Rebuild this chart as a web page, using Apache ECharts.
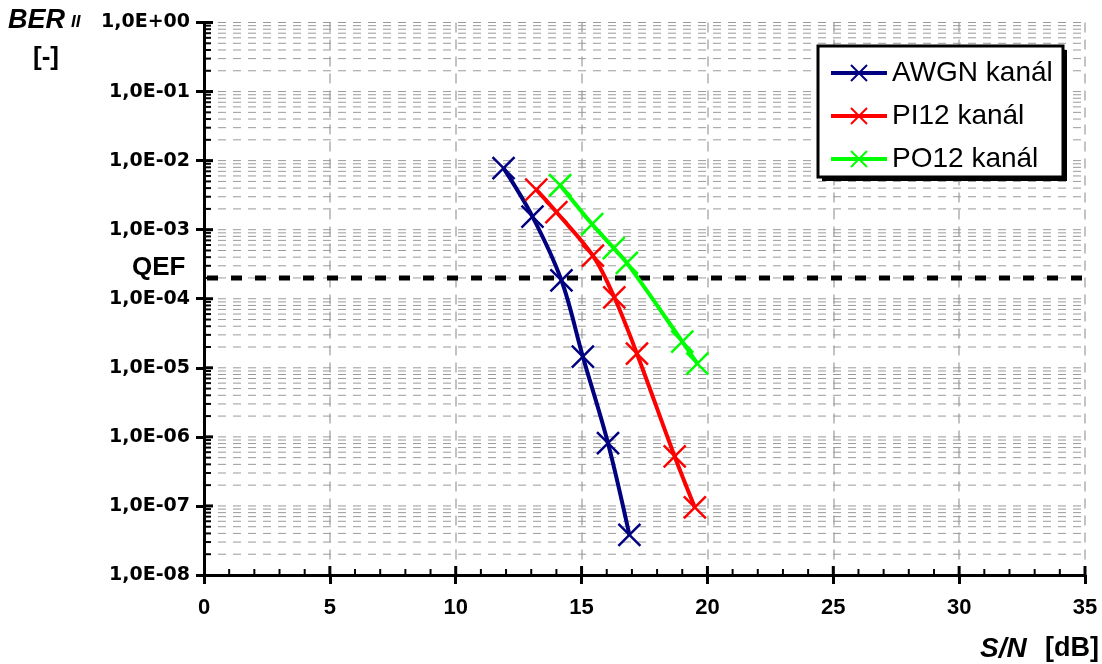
<!DOCTYPE html>
<html>
<head>
<meta charset="utf-8">
<script src="https://cdn.jsdelivr.net/npm/echarts@6/dist/echarts.min.js"></script>
<style>
html,body{margin:0;padding:0;background:#fff;}
#c{width:1102px;height:664px;}
</style>
</head>
<body>
<div id="c"></div>
<script>
// ---- data ----
const seriesNames = ['AWGN kanál', 'PI12 kanál', 'PO12 kanál'];
const snrAWGN = [11.9, 13.05, 14.2, 15.05, 16.05, 16.9];
const berAWGN = [7.8e-3, 1.55e-3, 1.85e-4, 1.45e-5, 8.1e-7, 3.8e-8];
const snrPI12 = [13.2, 14.0, 15.45, 16.3, 17.2, 18.7, 19.5];
const berPI12 = [3.8e-3, 1.8e-3, 4.2e-4, 1.05e-4, 1.6e-5, 5.2e-7, 9.5e-8];
const snrPO12 = [14.15, 15.42, 16.28, 16.8, 19.0, 19.6];
const berPO12 = [4.4e-3, 1.2e-3, 5.4e-4, 3.3e-4, 2.4e-5, 1.15e-5];
const qefLevel = 2e-4;
const xTicks = [0, 5, 10, 15, 20, 25, 30, 35];
const yMin = 1e-8, yMax = 1;

// ---- helpers ----
const colors = ['#000080', '#ff0000', '#00ff00'];
const FONT = '"Liberation Sans", Arial, sans-serif';
const WIDEFONT = '"DejaVu Sans", sans-serif';
const crossSymbol = 'path://M0,0L10,10M10,0L0,10';

// horizontal grid values (every k*10^n) — axis structure
const hGrid = [];
for (let n = -8; n <= 0; n++) {
  for (let k = 1; k <= 9; k++) {
    const v = k * Math.pow(10, n);
    if (v > yMax * 1.0001) break;
    if (n === -8 && k === 1) continue;
    hGrid.push([0, v, k === 1 ? 1 : 0]);
  }
}
// minor x ticks (integers)
const xMinor = [];
for (let i = 1; i <= 35; i++) xMinor.push([i, yMin, i % 5 === 0 ? 1 : 0]);

function fmtY(v) {
  const e = Math.round(Math.log10(v));
  const a = Math.abs(e);
  return '1,0E' + (e < 0 ? '-' : '+') + (a < 10 ? '0' : '') + a;
}

function mkSeries(name, xs, ys, color) {
  return {
    name: name,
    type: 'line',
    data: xs.map((x, i) => [x, ys[i]]),
    smooth: 0.35,
    symbol: crossSymbol,
    symbolSize: 22,
    showSymbol: true,
    lineStyle: { color: color, width: 4 },
    itemStyle: { color: color, borderColor: color, borderWidth: 2.5 },
    z: 5,
    animation: false
  };
}

const chart = echarts.init(document.getElementById('c'), null, { renderer: 'canvas' });

const option = {
  backgroundColor: '#fff',
  animation: false,
  grid: { left: 204, right: 17, top: 22.5, bottom: 89, containLabel: false },
  xAxis: {
    type: 'value', min: 0, max: 35, interval: 5,
    axisLine: { show: true, onZero: false, lineStyle: { color: '#000', width: 3 } },
    axisTick: { show: true, length: 9, lineStyle: { color: '#000', width: 3 } },
    axisLabel: { color: '#000', fontFamily: FONT, fontWeight: 'bold', fontSize: 22, margin: 22 },
    splitLine: { show: true, lineStyle: { color: '#b0b0b0', width: 1.5, type: [10, 7] } }
  },
  yAxis: {
    type: 'log', logBase: 10, min: yMin, max: yMax,
    axisLine: { show: true, onZero: false, lineStyle: { color: '#000', width: 3 } },
    axisTick: { show: true, length: 8, lineStyle: { color: '#000', width: 3 } },
    axisLabel: { color: '#000', fontFamily: WIDEFONT, fontWeight: 'bold', fontSize: 19, margin: 14, formatter: fmtY },
    splitLine: { show: false }
  },
  legend: {
    data: seriesNames,
    orient: 'vertical',
    left: 824, top: 54,
    itemWidth: 56, itemHeight: 20, itemGap: 15,
    padding: 5,
    lineStyle: { width: 4 },
    textStyle: { color: '#000', fontFamily: FONT, fontSize: 28 },
    z: 20
  },
  graphic: [
    { type: 'rect', z: 10, shape: { x: 822, y: 50, width: 245, height: 131 }, style: { fill: '#000' } },
    { type: 'rect', z: 11, shape: { x: 818, y: 46, width: 245, height: 131 }, style: { fill: '#fff', stroke: '#000', lineWidth: 3 } },
    { type: 'text', z: 12, left: 8, top: 7, style: { text: 'BER', font: 'italic bold 27px ' + FONT, fill: '#000' } },
    { type: 'text', z: 12, left: 71, top: 14, style: { text: 'II', font: 'italic bold 17px ' + FONT, fill: '#000' } },
    { type: 'text', z: 12, left: 33, top: 45, style: { text: '[-]', font: 'bold 26px ' + FONT, fill: '#000' } },
    { type: 'text', z: 12, left: 132, top: 255, style: { text: 'QEF', font: 'bold 26px ' + FONT, fill: '#000' } },
    { type: 'text', z: 12, left: 980, top: 635, style: { text: 'S/N', font: 'italic bold 28px ' + FONT, fill: '#000' } },
    { type: 'text', z: 12, left: 1045, top: 635, style: { text: '[dB]', font: 'bold 27px ' + FONT, fill: '#000' } }
  ],
  series: [
    {
      type: 'custom', name: 'hgrid', silent: true, z: 1,
      data: hGrid, encode: { x: 0, y: 1 },
      renderItem: function (params, api) {
        const v = api.value(1);
        const p0 = api.coord([0, v]);
        const p1 = api.coord([35, v]);
        return {
          type: 'group',
          children: [
            { type: 'line', shape: { x1: p0[0] + 14, y1: p0[1], x2: p1[0], y2: p1[1] },
              style: { stroke: '#9a9a9a', lineWidth: 1, lineDash: [8, 7] } },
            { type: 'line', shape: { x1: p0[0], y1: p0[1], x2: p0[0] + (api.value(2) ? 9 : 7), y2: p0[1] },
              style: { stroke: '#000', lineWidth: api.value(2) ? 3 : 2 } }
          ]
        };
      }
    },
    {
      type: 'custom', name: 'qef', silent: true, z: 2,
      data: [[0, qefLevel]], encode: { x: 0, y: 1 },
      renderItem: function (params, api) {
        const p0 = api.coord([0, api.value(1)]);
        const p1 = api.coord([35, api.value(1)]);
        return { type: 'line', shape: { x1: p0[0] + 3, y1: p0[1], x2: p1[0], y2: p1[1] },
          style: { stroke: '#000', lineWidth: 5, lineDash: [11, 13] } };
      }
    },
    {
      type: 'custom', name: 'xminor', silent: true, z: 3,
      data: xMinor, encode: { x: 0, y: 1 },
      renderItem: function (params, api) {
        const p = api.coord([api.value(0), yMin]);
        const major = api.value(2);
        return { type: 'line', shape: { x1: p[0], y1: p[1], x2: p[0], y2: p[1] - (major ? 9 : 6) },
          style: { stroke: '#000', lineWidth: major ? 3 : 2 } };
      }
    },
    mkSeries(seriesNames[0], snrAWGN, berAWGN, colors[0]),
    mkSeries(seriesNames[1], snrPI12, berPI12, colors[1]),
    mkSeries(seriesNames[2], snrPO12, berPO12, colors[2])
  ]
};
chart.setOption(option);
</script>
</body>
</html>
